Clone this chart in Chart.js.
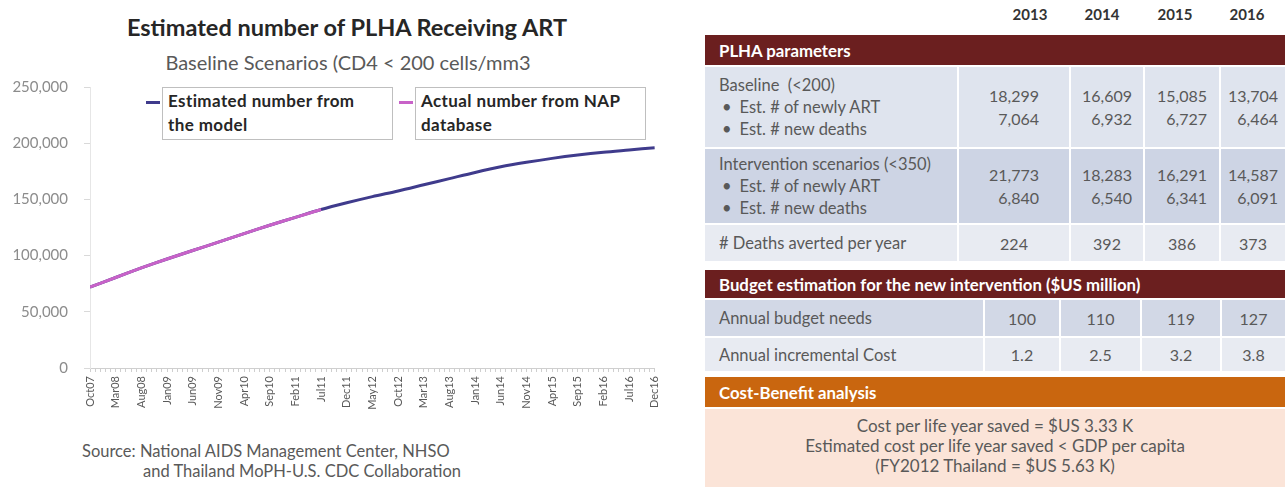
<!DOCTYPE html>
<html>
<head>
<meta charset="utf-8">
<script src="https://cdn.jsdelivr.net/npm/chart.js@4.4.0/dist/chart.umd.min.js"></script>
<style>
  body { margin: 0; width: 1287px; height: 487px; background: #fff; position: relative; overflow: hidden;
         font-family: Lato, "Open Sans", sans-serif; }
  .abs { position: absolute; }
  #title { left: 0; top: 13px; width: 694px; text-align: center; font-weight: bold; font-size: 23.5px; color: #262626; }
  #subtitle { left: 0; top: 50px; width: 696px; text-align: center; font-size: 20px; color: #595959; }
  #chartBox { left: 0; top: 74px; width: 672px; height: 340px; }
  .lg { position: absolute; top: 87px; height: 53px; box-sizing: border-box; border: 1px solid #bfbfbf; background: #fff;
        font-weight: bold; font-size: 17px; letter-spacing: 0.4px; color: #262626; line-height: 24px; padding: 1px 5px; }
  .lgMark { position: absolute; top: 101px; width: 14px; height: 3px; }
  #source { left: 82px; top: 441px; font-size: 16.5px; color: #595959; line-height: 20px; }
  .cell { position: absolute; box-sizing: border-box; display: flex; align-items: center; color: #595959; font-size: 16.5px; }
  .val { font-size: 16px; }
  .bar { color: #fff; font-weight: bold; font-size: 16.8px; padding-left: 14px; }
  .yr { position: absolute; top: 5px; width: 60px; margin-left: -30px; text-align: center; font-weight: bold; font-size: 15px; color: #333; }
</style>
</head>
<body>
<div id="title" class="abs">Estimated number of PLHA Receiving ART</div>
<div id="subtitle" class="abs">Baseline Scenarios (CD4 &lt; 200 cells/mm3</div>
<div id="chartBox" class="abs"><canvas id="myChart"></canvas></div>
<div id="legend"></div>
<div id="source" class="abs">Source: National AIDS Management Center, NHSO<br><span style="padding-left:61px">and Thailand MoPH-U.S. CDC Collaboration</span></div>
<div id="table"></div>

<script>
// x-axis labels, one every 5 months from Oct07
const tickLabels = ["Oct07", "Mar08", "Aug08", "Jan09", "Jun09", "Nov09", "Apr10", "Sep10", "Feb11", "Jul11", "Dec11",
  "May12", "Oct12", "Mar13", "Aug13", "Jan14", "Jun14", "Nov14", "Apr15", "Sep15", "Feb16", "Jul16", "Dec16"];
const monthStep = 5;
const estimated = [72000, 80500, 89000, 97000, 104500, 112000, 119500, 127000, 134000, 141000, 147000, 152500,
  157500, 163000, 168500, 174000, 179000, 183000, 186500, 189500, 192000, 194000, 196000];
const actual = [72000, 80500, 89000, 97000, 104500, 112000, 119500, 127000, 134000, 141000];
const seriesNames = ["Estimated number from the model", "Actual number from NAP database"];
const legendLines = [["Estimated number from", "the model"], ["Actual number from NAP", "database"]];
const seriesColors = ["#3f3b8c", "#c862c8"];

// table data
const years = ["2013", "2014", "2015", "2016"];
const baselineArt = ["18,299", "16,609", "15,085", "13,704"];
const baselineDeaths = ["7,064", "6,932", "6,727", "6,464"];
const interventionArt = ["21,773", "18,283", "16,291", "14,587"];
const interventionDeaths = ["6,840", "6,540", "6,341", "6,091"];
const deathsAverted = ["224", "392", "386", "373"];
const budgetNeeds = ["100", "110", "119", "127"];
const incrementalCost = ["1.2", "2.5", "3.2", "3.8"];
const costBenefit = ["Cost per life year saved = $US 3.33 K", "Estimated cost per life year saved < GDP per capita",
  "(FY2012 Thailand = $US 5.63 K)"];

function toPoints(values) {
  return values.map((v, i) => ({ x: i * monthStep, y: v }));
}

const chartInstance = new Chart("myChart", {
  type: "line",
  data: {
    datasets: [
      {
        label: seriesNames[0],
        data: toPoints(estimated),
        borderColor: seriesColors[0],
        borderWidth: 3,
        pointRadius: 0,
        tension: 0.3,
        order: 1,
      },
      {
        label: seriesNames[1],
        data: toPoints(actual),
        borderColor: seriesColors[1],
        borderWidth: 3,
        pointRadius: 0,
        tension: 0.3,
        order: 0,
      },
    ],
  },
  options: {
    responsive: true,
    maintainAspectRatio: false,
    animation: false,
    layout: { padding: { top: 13, right: 17, left: 0, bottom: 0 } },
    plugins: { legend: { display: false }, tooltip: { enabled: false } },
    scales: {
      x: {
        type: "linear",
        min: 0,
        max: (tickLabels.length - 1) * monthStep,
        grid: { drawOnChartArea: false, drawTicks: true, tickLength: 4, color: "#cfcfcf" },
        border: { display: true, color: "#cfcfcf" },
        ticks: {
          stepSize: 1,
          autoSkip: false,
          maxRotation: 90,
          minRotation: 90,
          padding: 4,
          color: "#595959",
          font: { family: "Lato", size: 11 },
          callback: (v) => (v % monthStep === 0 ? tickLabels[v / monthStep] : ""),
        },
        afterFit: (scale) => { scale.height = 46; },
      },
      y: {
        min: 0,
        max: 250000,
        grid: { drawOnChartArea: false, drawTicks: true, tickLength: 6, color: "#d9d9d9" },
        border: { display: true, color: "#e6e6e6" },
        ticks: {
          stepSize: 50000,
          padding: 16,
          color: "#8c8c8c",
          font: { family: "Lato", size: 15 },
          callback: (v) => v.toLocaleString("en-US"),
        },
        afterFit: (scale) => {
          scale.width = 90;
          scale.paddingTop = 0; // keep the plot top where the layout padding puts it
          scale.paddingBottom = 0;
        },
      },
    },
  },
});

// legend boxes
const legendEl = document.getElementById("legend");
const legendLeft = [162, 415];
const legendWidth = [231, 231];
legendLines.forEach((lines, i) => {
  const box = document.createElement("div");
  box.className = "lg";
  box.style.left = legendLeft[i] + "px";
  box.style.width = legendWidth[i] + "px";
  box.innerHTML = lines.join("<br>");
  legendEl.appendChild(box);
  const mark = document.createElement("div");
  mark.className = "lgMark";
  mark.style.left = legendLeft[i] - 16 + "px";
  mark.style.background = seriesColors[i];
  legendEl.appendChild(mark);
});

// table on the right
const tableEl = document.getElementById("table");
function cell(left, right, top, height, bg, html, extra) {
  const d = document.createElement("div");
  d.className = "cell" + (extra ? " " + extra : "");
  d.style.left = left + "px";
  d.style.width = right - left + "px";
  d.style.top = top + "px";
  d.style.height = height + "px";
  d.style.background = bg;
  d.innerHTML = html;
  tableEl.appendChild(d);
  return d;
}
const upperCols = [[705, 957], [959, 1069], [1071, 1143], [1145, 1219], [1221, 1285]];
const lowerCols = [[705, 983], [985, 1059], [1061, 1140], [1142, 1220], [1222, 1285]];
const yearCenters = [1030, 1102, 1175, 1247];
const labelPad = "padding-left:14px";

years.forEach((y, i) => {
  const d = document.createElement("div");
  d.className = "yr";
  d.style.left = yearCenters[i] + "px";
  d.textContent = y;
  tableEl.appendChild(d);
});

function valueBlock(lines) {
  return '<div style="margin:0 auto;text-align:right;line-height:23px">' + lines.join("<br>") + "</div>";
}
function bulletLabel(head) {
  return '<div style="line-height:22px;padding-left:14px">' + head +
    '<br><span style="padding:0 8px 0 3px">&bull;</span>Est. # of newly ART' +
    '<br><span style="padding:0 8px 0 3px">&bull;</span>Est. # new deaths</div>';
}

cell(705, 1285, 35, 30, "#6b1f1f", "PLHA parameters", "bar");

function dataRow(cols, top, height, bg, label, valueLines) {
  cell(cols[0][0], cols[0][1], top, height, bg, label);
  for (let i = 0; i < 4; i++) {
    cell(cols[i + 1][0], cols[i + 1][1], top, height, bg, valueBlock(valueLines.map((arr) => arr[i])), "val");
  }
}
dataRow(upperCols, 67, 80, "#dfe4ee", bulletLabel("Baseline&nbsp; (&lt;200)"), [baselineArt, baselineDeaths]);
dataRow(upperCols, 149, 74, "#cdd4e4", bulletLabel("Intervention scenarios (&lt;350)"), [interventionArt, interventionDeaths]);
dataRow(upperCols, 225, 36, "#e8ebf2", '<div style="' + labelPad + '"># Deaths averted per year</div>', [deathsAverted]);

cell(705, 1285, 270, 28, "#6b1f1f", "Budget estimation for the new intervention ($US million)", "bar");
dataRow(lowerCols, 300, 36, "#d2d8e6", '<div style="' + labelPad + '">Annual budget needs</div>', [budgetNeeds]);
dataRow(lowerCols, 338, 33, "#e8ebf2", '<div style="' + labelPad + '">Annual incremental Cost</div>', [incrementalCost]);

cell(705, 1285, 377, 30, "#c9660f", "Cost-Benefit analysis", "bar");
cell(705, 1285, 409, 78, "#fbe4d8",
  '<div style="margin:0 auto;text-align:center;line-height:20px;font-size:17px;padding-bottom:4px">' +
  costBenefit.join("<br>") + "</div>");
</script>
</body>
</html>
